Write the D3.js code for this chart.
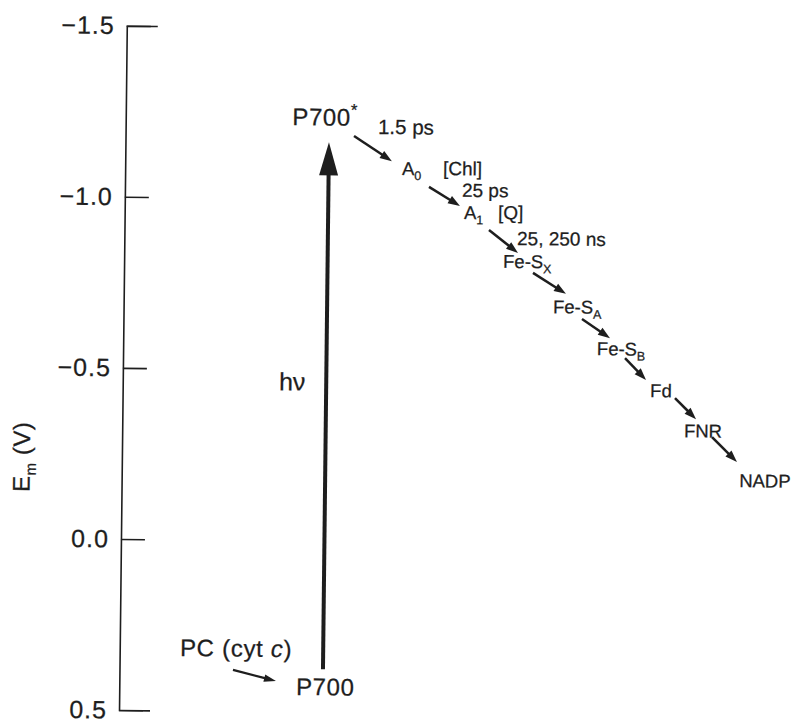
<!DOCTYPE html>
<html>
<head>
<meta charset="utf-8">
<script src="https://cdn.jsdelivr.net/npm/d3@7"></script>
<style>
  html, body { margin: 0; padding: 0; background: #fff; }
  text { font-family: "Liberation Sans", Arial, Helvetica, sans-serif; fill: #1e1e1e; stroke: #1e1e1e; stroke-width: 0.25px; }
</style>
</head>
<body>
<svg id="chart" width="795" height="722"></svg>
<script>
// ---------- data ----------
const tickValues = [-1.5, -1.0, -0.5, 0.0, 0.5];
const tickLabels = ["\u22121.5", "\u22121.0", "\u22120.5", "0.0", "0.5"];
const axisTitleMain = "E";
const axisTitleSub = "m";
const axisTitleUnit = " (V)";
const axisTitleEm = -0.237;

// electron carriers (label main text, subscript, position along path, Em in V)
const carrierMain = ["Fe-S", "Fe-S", "Fe-S", "A", "A", "Fd", "FNR", "NADP"];
const carrierSub  = ["X", "A", "B", "0", "1", "", "", ""];
const carrierX    = [56.4, 63.9, 70.5, 41.2, 50.5, 78.5, 83.6, 91.9];
const carrierEm   = [-0.805, -0.674, -0.553, -1.073, -0.946, -0.432, -0.316, -0.172];

// annotations (rate constants and chemical identity)
const noteText = ["1.5 ps", "[Chl]", "25 ps", "[Q]", "25, 250 ns"];
const noteX    = [37.56, 47.3, 50.16, 55.57, 58.44];
const noteEm   = [-1.192, -1.074, -1.011, -0.947, -0.872];

// electron transfer arrows (start -> end)
const transferX0  = [34.0, 45.24, 54.24, 60.86, 68.23, 74.7, 82.2, 87.78];
const transferEm0 = [-1.185, -1.039, -0.915, -0.791, -0.658, -0.545, -0.430, -0.317];
const transferX1  = [39.67, 49.88, 58.6, 65.8, 72.43, 77.86, 85.37, 91.53];
const transferEm1 = [-1.113, -0.984, -0.849, -0.731, -0.603, -0.482, -0.369, -0.245];

// P700 ground and excited states
const p700Label = "P700";
const p700StarSup = "*";
const p700X = 26.3, p700Em = 0.450;
const p700StarX = 24.8, p700StarEm = -1.215;

// light excitation arrow
const excitationX = 30.28;
const excitationEm = [0.374, -1.166];
const lightLabel = "h\u03bd";
const lightX = 23.26, lightEm = -0.440;

// donor
const donorText = ["PC (cyt ", "c", ")"];
const donorX = 8.97, donorEm = 0.340;
const donorArrowX = [16.89, 23.3];
const donorArrowEm = [0.379, 0.410];

// ---------- drawing ----------
const svg = d3.select("#chart");
const ink = "#1e1e1e";

const y = d3.scaleLinear().domain([-1.5, 0.5]).range([28.8, 713.2]);
const x = d3.scaleLinear().domain([0, 100]).range([123, 795]);

const g = svg.append("g").attr("transform", "rotate(0.65 400 361)");

// axis
const axis = d3.axisLeft(y)
  .tickValues(tickValues)
  .tickFormat((d, i) => tickLabels[i])
  .tickSizeInner(-24)
  .tickSizeOuter(-31)
  .tickPadding(12);

const ax = g.append("g").attr("transform", `translate(${x(0)},0)`).call(axis);
ax.select(".domain").attr("stroke", ink).attr("stroke-width", 1.6);
ax.selectAll(".tick line").attr("stroke", ink).attr("stroke-width", 1.6);
ax.selectAll(".tick text")
  .attr("font-size", 25)
  .attr("letter-spacing", 1)
  .attr("font-family", "'Liberation Sans', Arial, sans-serif")
  .attr("fill", ink);

// axis title
const title = g.append("text")
  .attr("transform", `translate(31,${y(axisTitleEm)}) rotate(-90)`)
  .attr("text-anchor", "middle")
  .attr("font-size", 24)
  .attr("letter-spacing", 0.5);
title.append("tspan").text(axisTitleMain);
title.append("tspan").attr("font-size", 15).attr("dy", 6).text(axisTitleSub);
title.append("tspan").attr("dy", -6).text(axisTitleUnit);

// arrow helper
function arrow(sel, x0, y0, x1, y1, headLen, headW, sw) {
  const dx = x1 - x0, dy = y1 - y0, L = Math.hypot(dx, dy);
  const ux = dx / L, uy = dy / L;
  const bx = x1 - ux * headLen, by = y1 - uy * headLen;
  sel.append("line")
    .attr("x1", x0).attr("y1", y0)
    .attr("x2", bx + ux * 1.5).attr("y2", by + uy * 1.5)
    .attr("stroke", ink).attr("stroke-width", sw);
  sel.append("path")
    .attr("d", `M${x1},${y1}L${bx - uy * headW / 2},${by + ux * headW / 2}L${bx + uy * headW / 2},${by - ux * headW / 2}Z`)
    .attr("fill", ink);
}

// excitation arrow
arrow(g, x(excitationX), y(excitationEm[0]), x(excitationX), y(excitationEm[1]), 33, 19, 4);

// transfer arrows
const arrowsG = g.append("g");
transferX0.forEach((d, i) => {
  arrow(arrowsG, x(transferX0[i]), y(transferEm0[i]), x(transferX1[i]), y(transferEm1[i]), 12, 8.5, 2.5);
});

// donor arrow
arrow(g, x(donorArrowX[0]), y(donorArrowEm[0]), x(donorArrowX[1]), y(donorArrowEm[1]), 12, 7.5, 2.2);

// P700 excited
const ps = g.append("text").attr("x", x(p700StarX)).attr("y", y(p700StarEm)).attr("font-size", 24).attr("letter-spacing", 0.6);
ps.append("tspan").text(p700Label);
ps.append("tspan").attr("font-size", 17).attr("dy", -10).attr("dx", 0).text(p700StarSup);

// P700 ground
g.append("text").attr("x", x(p700X)).attr("y", y(p700Em)).attr("font-size", 24).attr("letter-spacing", 0.6).text(p700Label);

// light label
g.append("text").attr("x", x(lightX)).attr("y", y(lightEm)).attr("font-size", 25).text(lightLabel);

// donor label
const dn = g.append("text").attr("x", x(donorX)).attr("y", y(donorEm)).attr("font-size", 24).attr("letter-spacing", 0.7);
dn.append("tspan").text(donorText[0]);
dn.append("tspan").attr("font-style", "italic").text(donorText[1]);
dn.append("tspan").text(donorText[2]);

// carriers
const cg = g.append("g");
carrierMain.forEach((m, i) => {
  const t = cg.append("text").attr("x", x(carrierX[i])).attr("y", y(carrierEm[i])).attr("font-size", 18.5);
  t.append("tspan").text(m);
  if (carrierSub[i]) t.append("tspan").attr("font-size", 12.5).attr("dy", 5).text(carrierSub[i]);
});

// notes
noteText.forEach((n, i) => {
  g.append("text").attr("x", x(noteX[i])).attr("y", y(noteEm[i]))
    .attr("font-size", i === 0 ? 20.5 : 19).text(n);
});
</script>
</body>
</html>
